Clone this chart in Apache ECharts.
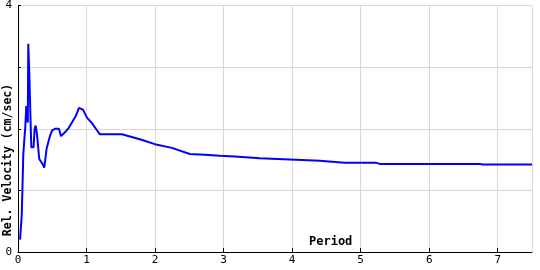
<!DOCTYPE html>
<html>
<head>
<meta charset="utf-8">
<script src="https://cdn.jsdelivr.net/npm/echarts@6/dist/echarts.min.js"></script>
<style>html,body{margin:0;padding:0;background:#fff}#c{width:540px;height:270px}</style>
</head>
<body>
<div id="c"></div>
<script>
var periods = [0.03,0.034,0.054,0.063,0.077,0.092,0.106,0.121,0.136,0.143,0.150,0.165,0.179,0.194,0.227,0.242,0.258,0.277,0.296,0.31,0.331,0.357,0.383,0.398,0.418,0.442,0.466,0.496,0.539,0.598,0.627,0.656,0.70,0.743,0.787,0.845,0.889,0.948,1.006,1.079,1.137,1.195,1.516,1.778,1.997,2.245,2.507,2.726,2.945,3.163,3.528,3.965,4.402,4.767,5.219,5.277,6.735,6.778,7.5];
var velocities = [0.2,0.27,0.59,0.94,1.58,1.82,2.02,2.37,2.34,2.1,3.38,2.9,2.31,1.7,1.7,2.0,2.05,1.91,1.68,1.51,1.5,1.43,1.37,1.5,1.68,1.78,1.88,1.97,2.0,2.0,1.88,1.91,1.96,2.02,2.1,2.21,2.34,2.31,2.18,2.09,2.0,1.91,1.91,1.83,1.75,1.69,1.59,1.58,1.56,1.55,1.52,1.5,1.48,1.45,1.45,1.43,1.43,1.42,1.42];
var yLabelsShown = [0, 4];
var xTitle = 'Period';
var yTitle = 'Rel. Velocity (cm/sec)';

var data = periods.map(function(p, i){ return [p, velocities[i]]; });
var chart = echarts.init(document.getElementById('c'), null, {renderer:'canvas'});
var font = '"DejaVu Sans Mono", monospace';
chart.setOption({
  animation: false,
  grid: {left: 18, right: 8, top: 1, bottom: 18, containLabel: false},
  xAxis: {
    type: 'value', min: 0, max: 7.5, interval: 1,
    axisLine: {show: true, lineStyle: {color: '#000', width: 1}},
    axisTick: {show: true, inside: true, length: 4, lineStyle: {color: '#000'}},
    axisLabel: {color: '#000', fontFamily: font, fontSize: 11, margin: 3, showMaxLabel: false},
    splitLine: {show: true, lineStyle: {color: '#d8d8d8', width: 1}}
  },
  yAxis: {
    type: 'value', min: 0, max: 4, interval: 1,
    axisLine: {show: true, lineStyle: {color: '#000', width: 1}},
    axisTick: {show: true, inside: true, length: 3, lineStyle: {color: '#000'}},
    axisLabel: {color: '#000', fontFamily: font, fontSize: 11, margin: 6,
      formatter: function(v){ return yLabelsShown.indexOf(v) >= 0 ? String(v) : ''; }},
    splitLine: {show: true, lineStyle: {color: '#d8d8d8', width: 1}}
  },
  graphic: [
    {type: 'text', left: 309, top: 236, style: {text: xTitle, fill: '#000', font: 'bold 12px ' + font}},
    {type: 'text', x: 8, y: 160, rotation: Math.PI/2,
      style: {text: yTitle, fill: '#000', font: 'bold 11.5px ' + font, textAlign: 'center', textVerticalAlign: 'middle'}}
  ],
  series: [{
    type: 'line', data: data, symbol: 'none', smooth: false,
    lineStyle: {color: '#0000ff', width: 2}
  }]
});
</script>
</body>
</html>
